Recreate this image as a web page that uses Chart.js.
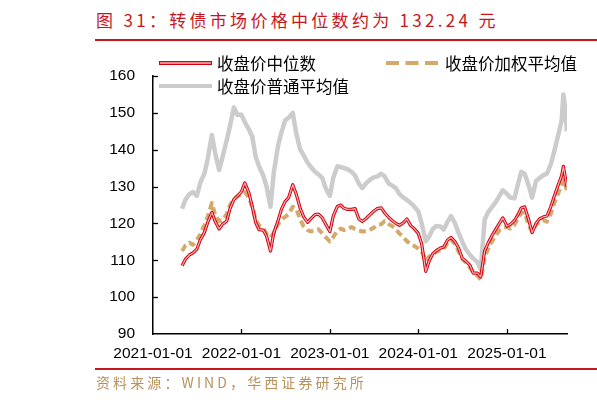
<!DOCTYPE html>
<html lang="zh-CN">
<head>
    <meta charset="UTF-8">
    <title>转债市场价格中位数</title>
    <script src="https://cdn.jsdelivr.net/npm/chart.js"></script>
    <style>
        body {
            margin: 0;
            background: #fff;
        }
        #wrap {
            position: relative;
            width: 597px;
            height: 402px;
            background: #fff;
            overflow: hidden;
        }
        #chart {
            position: absolute;
            left: 0;
            top: 0;
        }
        .title {
            position: absolute;
            left: 96px;
            top: 9px;
            font-family: 'Noto Sans CJK SC', sans-serif;
            font-size: 17px;
            line-height: 22px;
            letter-spacing: 3.3px;
            color: #c8161d;
            white-space: nowrap;
        }
        .rule {
            position: absolute;
            left: 95px;
            width: 502px;
            height: 2px;
            background: #c8161d;
        }
        .source {
            position: absolute;
            left: 96px;
            top: 372px;
            font-family: 'Noto Sans CJK SC', sans-serif;
            font-size: 14px;
            line-height: 20px;
            letter-spacing: 3.1px;
            color: #b8925a;
            white-space: nowrap;
        }
    </style>
</head>
<body>
<div id="wrap">
    <div class="title">图 31：转债市场价格中位数约为 132.24 元</div>
    <div class="rule" style="top:39px"></div>
    <canvas id="chart" width="597" height="402"></canvas>
    <div class="rule" style="top:368px"></div>
    <div class="source">资料来源：WIND，华西证券研究所</div>
</div>

<script>
    // 日期（半月取样）
    const dates = [
        '2021-05-01','2021-05-15','2021-06-01','2021-06-15','2021-07-01','2021-07-15','2021-08-01','2021-08-15',
        '2021-09-01','2021-09-15','2021-10-01','2021-10-15','2021-11-01','2021-11-15','2021-12-01','2021-12-15',
        '2022-01-01','2022-01-15','2022-02-01','2022-02-15','2022-03-01','2022-03-15','2022-04-01','2022-04-15',
        '2022-05-01','2022-05-15','2022-06-01','2022-06-15','2022-07-01','2022-07-15','2022-08-01','2022-08-15',
        '2022-09-01','2022-09-15','2022-10-01','2022-10-15','2022-11-01','2022-11-15','2022-12-01','2022-12-15',
        '2023-01-01','2023-01-15','2023-02-01','2023-02-15','2023-03-01','2023-03-15','2023-04-01','2023-04-15',
        '2023-05-01','2023-05-15','2023-06-01','2023-06-15','2023-07-01','2023-07-15','2023-08-01','2023-08-15',
        '2023-09-01','2023-09-15','2023-10-01','2023-10-15','2023-11-01','2023-11-15','2023-12-01','2023-12-15',
        '2024-01-01','2024-01-15','2024-02-01','2024-02-15','2024-03-01','2024-03-15','2024-04-01','2024-04-15',
        '2024-05-01','2024-05-15','2024-06-01','2024-06-15','2024-07-01','2024-07-15','2024-08-01','2024-08-15',
        '2024-09-01','2024-09-15','2024-10-01','2024-10-15','2024-11-01','2024-11-15','2024-12-01','2024-12-15',
        '2025-01-01','2025-01-15','2025-02-01','2025-02-15','2025-03-01','2025-03-15','2025-04-01','2025-04-15',
        '2025-05-01','2025-05-15','2025-06-01','2025-06-15','2025-07-01','2025-07-15','2025-08-01','2025-08-15',
        '2025-08-22','2025-09-01','2025-09-05'
    ];

    // 收盘价中位数
    const medianPrice = [
        108.5, 110.3, 111.5, 112, 113, 115.5, 117.5, 120.3, 123, 120.5, 118.5, 119.8, 120.6, 124, 126.5, 127.4,
        128.6, 131, 128.3, 124.5, 120.2, 118.3, 118.2, 116.5, 112.5, 117.5, 120.7, 123.8, 126, 127, 130.5, 128,
        124, 121.8, 120.3, 121.3, 122.4, 122.5, 121.5, 119.8,
        117.8, 122, 124.6, 125, 124.1, 123.8, 123.8, 124, 121.2, 120.5, 121.4, 122.3, 123.3, 124, 124.2, 122.9,
        121.6, 120.8, 120, 119.5, 120.2, 121.2, 119.4, 118.6,
        117.3, 114.5, 107, 109.8, 111.8, 112.6, 113.3, 113.6, 115.5, 116.2, 115, 113.4, 110.5, 109.8, 108.7, 106.5,
        106.5, 105.5, 112.5, 114.6, 116.8, 118.3, 120, 121.5,
        119.3, 119.7, 120.8, 122.3, 124.2, 124.5, 121, 117.5, 120, 121.2, 121.8, 122, 124.5, 127.3, 130.5, 133,
        135.5, 131.7, 130
    ];

    // 收盘价加权平均值
    const weightedPrice = [
        112.5, 114, 114.8, 114.2, 115.5, 117, 119.5, 121.8, 125.5, 122.3, 120.6, 120.9, 122.5, 125, 126.6, 127.4,
        127.8, 128.5, 127, 124.5, 121, 119.4, 118.8, 117.2, 116.2, 117.5, 119.8, 120.9, 121.8, 122.5, 124.5, 124,
        121, 119.2, 118.2, 117.8, 118.3, 118.4, 117.3, 116.3,
        115.1, 116.3, 118, 118.6, 118.2, 118.5, 119, 118.5, 118.1, 117.8, 117.9, 118.3, 118.8, 119.6, 119.8, 120.6,
        119.8, 119.3, 118.3, 117.3, 116.2, 115.2, 114.3, 113.9,
        113.2, 112.5, 109.8, 111, 111.8, 112.2, 112.8, 113, 114.8, 115.6, 114.4, 112.5, 110.3, 109.5, 108, 106.8,
        105.8, 104.8, 110.8, 113, 115.2, 116.6, 118.2, 118.8,
        119, 118.6, 119.6, 121.3, 122.8, 123, 119.5, 117.7, 119.6, 120.5, 120.9, 120.5, 122.6, 125.5, 128.2, 130.5,
        132, 130, 129
    ];

    // 收盘价普通平均值
    const meanPrice = [
        124, 126.5, 128, 128.5, 127.5, 131, 133.5, 137.5, 144, 139, 134.5, 138, 142.5, 146.5, 151.5, 149.5,
        149.5, 147.5, 145.5, 143.5, 138, 135.5, 133, 130, 124.5, 134, 141, 144.7, 148, 148.7, 150, 144.5,
        140, 138.5, 136.5, 135.3, 134, 133.3, 132.3, 129.5,
        127.5, 132.3, 135.5, 135.3, 135, 134.7, 134, 133, 130.8, 129.6, 131, 131.8, 132.5, 132.7, 133.5, 132.8,
        130.8, 130.3, 129.5, 128, 127, 126.4, 125.5, 124.6,
        123.3, 120, 115.2, 116.5, 118.5, 119.3, 119.2, 118.3, 120.5, 122, 120, 117.5, 115, 113, 111.5, 110.5,
        109.5, 107.5, 121, 123, 124.5, 125.7, 127.5, 129,
        128, 127, 126.8, 130.5, 134, 133.5, 130.3, 127, 131.5, 132.3, 133.1, 133.5, 136, 139.5, 144, 148,
        155, 150, 145
    ];

    const tickLabels = ['2021-01-01', '2022-01-01', '2023-01-01', '2024-01-01', '2025-01-01'];
    const legendNames = ['收盘价中位数', '收盘价加权平均值', '收盘价普通平均值'];

    const RED = '#d20010';
    const PINK = '#f4b4b4';
    const TAN = '#d3a96c';
    const GREY = '#cccccc';

    const day0 = Date.parse('2021-01-01');
    const toDay = d => (Date.parse(d) - day0) / 864e5;
    const tickValues = tickLabels.map(toDay);
    const xy = arr => arr.map((v, i) => ({ x: toDay(dates[i]), y: v }));

    // 图例 + 朝内的刻度线
    const decor = {
        id: 'decor',
        afterDraw(chart) {
            const { ctx, chartArea: a, scales: { x, y } } = chart;
            ctx.save();
            ctx.strokeStyle = '#000';
            ctx.lineWidth = 1.3;
            y.ticks.forEach(t => {
                if (t.value === 90) return;
                const py = Math.round(y.getPixelForValue(t.value)) + 0.5;
                ctx.beginPath();
                ctx.moveTo(a.left, py);
                ctx.lineTo(a.left + 5, py);
                ctx.stroke();
            });
            x.ticks.forEach(t => {
                if (t.value === 0) return;
                const px = Math.round(x.getPixelForValue(t.value)) + 0.5;
                ctx.beginPath();
                ctx.moveTo(px, a.bottom);
                ctx.lineTo(px, a.bottom - 5);
                ctx.stroke();
            });

            ctx.font = '16.5px "Noto Sans CJK SC"';
            ctx.fillStyle = '#000';
            ctx.textBaseline = 'middle';
            ctx.lineCap = 'butt';

            // 中位数：双线
            ctx.strokeStyle = RED;
            ctx.lineWidth = 4;
            ctx.beginPath(); ctx.moveTo(159, 63); ctx.lineTo(212, 63); ctx.stroke();
            ctx.strokeStyle = PINK;
            ctx.lineWidth = 1.4;
            ctx.beginPath(); ctx.moveTo(160, 63); ctx.lineTo(211, 63); ctx.stroke();
            ctx.fillText(legendNames[0], 217, 64);

            // 加权平均：虚线
            ctx.strokeStyle = TAN;
            ctx.lineWidth = 4;
            ctx.setLineDash([13, 6.5]);
            ctx.beginPath(); ctx.moveTo(386, 63); ctx.lineTo(438, 63); ctx.stroke();
            ctx.setLineDash([]);
            ctx.fillText(legendNames[1], 445, 64);

            // 普通平均
            ctx.strokeStyle = GREY;
            ctx.lineWidth = 4;
            ctx.beginPath(); ctx.moveTo(159, 86); ctx.lineTo(212, 86); ctx.stroke();
            ctx.fillText(legendNames[2], 217, 87);
            ctx.restore();
        }
    };

    const lineBase = { pointRadius: 0, tension: 0, borderJoinStyle: 'round', fill: false };

    new Chart(document.getElementById('chart'), {
        type: 'line',
        data: {
            datasets: [
                { ...lineBase, label: legendNames[0], data: xy(medianPrice), borderColor: PINK, borderWidth: 1.2, order: 0 },
                { ...lineBase, label: legendNames[0], data: xy(medianPrice), borderColor: RED, borderWidth: 3.2, order: 1 },
                { ...lineBase, label: legendNames[1], data: xy(weightedPrice), borderColor: TAN, borderWidth: 4, borderDash: [7, 4], order: 2 },
                { ...lineBase, label: legendNames[2], data: xy(meanPrice), borderColor: GREY, borderWidth: 4.5, order: 3 }
            ]
        },
        options: {
            responsive: false,
            animation: false,
            events: [],
            layout: { padding: { top: 76, right: 30, left: 0, bottom: 0 } },
            plugins: {
                legend: { display: false },
                tooltip: { enabled: false }
            },
            scales: {
                x: {
                    type: 'linear',
                    min: 0,
                    max: 1709,
                    afterBuildTicks: s => { s.ticks = tickValues.map(v => ({ value: v })); },
                    afterFit: s => { s.height = 68; },
                    grid: { display: false, drawTicks: false },
                    border: { display: true, color: '#000', width: 1.5 },
                    ticks: {
                        autoSkip: false,
                        maxRotation: 0,
                        minRotation: 0,
                        padding: 10,
                        color: '#000',
                        font: { family: 'Liberation Sans', size: 15.5 },
                        callback: v => tickLabels[tickValues.indexOf(v)]
                    }
                },
                y: {
                    min: 90,
                    max: 160,
                    afterFit: s => { s.width = 153; },
                    grid: { display: false, drawTicks: false },
                    border: { display: true, color: '#000', width: 1.5 },
                    ticks: {
                        stepSize: 10,
                        padding: 18,
                        color: '#000',
                        font: { family: 'Liberation Sans', size: 15.5 }
                    }
                }
            }
        },
        plugins: [decor]
    });
</script>
</body>
</html>
